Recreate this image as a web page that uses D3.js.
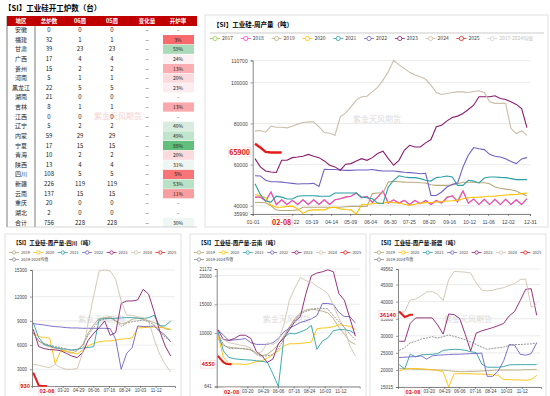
<!DOCTYPE html>
<meta charset="utf-8">
<style>
body { margin: 0; background: #fff; }
svg { font-family: "Noto Sans CJK SC", "Noto Sans", sans-serif; }
.tbl text { font-size: 6px; fill: #222; text-anchor: middle; }
.tbl .hdr { fill: #fff; font-size: 5.5px; font-weight: bold; }
.tick text { fill: #444; }
.domain { stroke: #555; stroke-width: 0.7; }
.tick line { stroke: #555; stroke-width: 0.6; }
.grid line { stroke: #e3e3e3; stroke-width: 0.7; }
.wm { fill: #dcdcdc; text-anchor: middle; font-size: 8px; }
</style>
<svg width="550" height="396"></svg>
<script src="https://d3js.org/d3.v7.min.js"></script>
<script>

// ---------- table data ----------
var regions = ["安徽","福建","甘肃","广西","贵州","河南","黑龙江","湖南","吉林","江西","辽宁","内蒙","宁夏","青海","陕西","四川","新疆","云南","重庆","湖北"];
var totalFurnaces = [0,32,39,17,15,5,22,21,8,0,5,59,17,10,13,108,226,137,20,2];
var openWeek06 = [0,1,23,4,2,1,5,0,1,0,2,29,15,2,4,5,119,15,0,0];
var openWeek05 = [0,1,23,4,2,1,5,0,1,0,2,29,15,2,4,5,119,15,0,0];
var tableHeader = ["地区","总炉数","06周","05周","变化量","开炉率"];

// ---------- main chart (national weekly output) ----------
var mainYears = ["2017","2018","2019","2020","2021","2022","2023","2024","2025"];
var mainColors = ["#92d050","#ff3fcf","#b9aa7a","#ffc000","#2a9fa6","#6f62c4","#8b1d6e","#cbbeab","#e51a1a"];
var main2017 = [44200,44200,42300,46700,40600,42900,40600,42600,40600,42900,40600,42900,40600,42900,40600,42900,43400,44200,44600,46200,43900,44600,41600,44200,47200,41300,42900,41300,42600,40600,42600,41000,42600,40600,42600,41300,44400,44600,42600,47400,41300,43300,40600,43100,40600,43100,40600,43100,40600,42900,40600,43600];
var main2018 = [44200,44200,42300,46700,40600,42900,40600,42600,40600,42900,40600,42900,40600,42900,40600,42900,43400,44200,44600,46200,43900,44600,41600,44200,47200,41300,42900,41300,42600,40600,42600,41000,42600,40600,42600,41300,43900,44900,41800,47200,41300,43300,40600,43100,40600,43100,40600,43100,40600,42900,40600,43300];
var main2019 = [41600,41600,41500,40000,37900,37700,37700,37700,38000,39300,39300,39300,39300,39300,39300,39300,39300,39500,39700,39700,39700,39700,45900,46200,46200,51500,51900,51700,51500,51400,51400,51200,51100,50200,49900,49900,49900,50100,50700,51400,51400,51400,51200,51200,50700,49100,48500,48100,47800,47200,45900,44900];
var main2020 = [45500,44900,43900,40200,39300,39300,39700,39800,38500,36300,37700,38000,38000,38000,39000,39300,38500,38200,38000,35990,40500,40700,41000,41200,41300,41800,41600,41300,40700,40200,40700,41300,41500,41600,41800,42000,42300,42400,42600,43400,43900,44100,44200,44400,44600,44700,45000,45200,45400,45500,45900,46200];
var main2021 = [50700,45500,42300,41800,44700,44200,43300,43300,44600,44900,44900,44900,44700,44600,44600,46200,46200,46200,46200,46200,44200,43900,43400,41300,41000,49100,52400,54600,54000,53700,53700,53200,52400,52000,53700,54000,54500,54000,49900,49900,52400,52000,51100,53500,54000,54000,53800,53700,53200,52700,52700,52700];
var main2022 = [54600,54500,52400,51700,51700,51500,51200,50900,50600,50700,50700,50900,49400,57700,57600,57600,57400,57200,57200,57400,57400,57400,57600,57200,56900,56900,56900,56600,56300,56100,55900,55600,55800,45000,45000,46700,49100,50400,51100,58900,64600,68300,67700,67300,65000,64100,63700,62900,61500,60500,62800,63400];
var main2023 = [62900,58900,56900,56400,56200,62100,62100,63400,63700,64100,65000,64100,63400,61800,59700,58900,57300,60200,60500,61800,62900,62100,63400,65400,66500,62900,59700,62100,67000,69400,68600,68600,70600,72200,78400,79200,81300,82900,83600,84900,86800,88900,93000,93000,93000,93500,92200,91700,90600,89300,87300,78000];
var main2024 = [76300,76600,75800,78700,78200,78200,77900,78700,79700,80500,80800,80800,78400,75600,75300,74300,83300,85200,88100,91400,93000,93300,95400,97600,101100,105200,110700,108500,106800,104900,103600,102800,101500,98700,95100,94100,94600,95100,95400,95400,95100,95600,95900,95100,90600,89800,89800,89800,77600,75100,76400,74300];
var main2025 = [70200,68300,66200,65900,65900,65900];
var mainSeries = [main2017,main2018,main2019,main2020,main2021,main2022,main2023,main2024,main2025];
var mainYTicks = [110700,100000,80000,60000,40000,35990];
var mainXTicks = ["01-01","02-22","03-19","04-14","05-09","06-04","06-30","07-25","08-20","09-16","10-12","11-06","12-02","12-31"];

// ---------- regional charts ----------
var subYears = ["2019","2020","2021","2022","2023","2024","2025","2019-2024均值"];
var subColors = ["#b9aa7a","#ffc000","#2a9fa6","#6f62c4","#8b1d6e","#cfc3b0","#e51a1a","#8a8a8a"];
var subXTicks = ["03-20","04-29","06-06","07-16","08-24","10-03","11-12"];

var sc2019 = [7500,6500,6000,5800,5600,5500,5200,5000,5300,6000,7500,8500,9300,9400,9500,9000,8600,8800,9200,9300,9200,9000,8800,8500,8000,7900];
var sc2020 = [7540,7050,6920,6880,3700,5300,5270,5070,4900,5400,5890,6220,6390,6510,6510,6630,6720,6800,6880,8120,8160,8200,8240,8200,8120,7960];
var sc2021 = [8780,6920,6100,5890,5690,5560,5480,5400,5480,5640,5690,5810,9190,9280,9280,9320,9360,9400,9400,9360,9280,9400,9690,8370,8370,8990];
var sc2022 = [8660,8570,8490,8370,8290,8240,8160,8120,8120,8080,8080,8080,8080,8080,8040,6720,3000,4980,5690,8370,8290,8290,8370,7750,7210,6390];
var sc2023 = [7960,5810,5560,5440,5400,5310,4980,4650,4450,5070,6590,7460,8160,8990,7210,7540,11170,11460,11460,11590,12910,12290,10100,7750,5890,4650];
var sc2024 = [3620,3500,3330,3210,3620,3210,3000,3000,3080,5070,8780,12080,15180,15300,15180,14150,11460,9690,9690,9520,9400,8990,6720,4860,3620,2670];
var sc2025 = [2600,1800,1000,930,930,930];
var scMean = [7500,6500,6200,6000,5800,5700,5500,5300,5400,6000,7200,8200,9000,9200,9400,9000,8300,8700,8900,9000,9100,8900,8500,7600,7000,6500];

var yn2019 = [9000,7800,7500,7400,7300,7200,7000,6500,6000,6300,7000,8000,9500,11000,12500,13500,14000,14200,14000,13800,13500,12500,11000,9800,8500,8000];
var yn2020 = [9710,5710,4690,4570,4570,4460,4690,4970,5140,5600,6290,6860,7720,8110,8110,8170,8290,8400,10740,10860,10910,11090,11430,11310,11140,10570];
var yn2021 = [10290,6860,5710,5490,5370,5310,5260,5140,5030,4860,2860,641,9140,9940,9830,10170,10570,11310,7140,8570,9140,10400,10570,10570,10400,9830];
var yn2022 = [10570,9600,8690,8800,8860,9030,8290,8000,8000,8000,8290,9030,10170,10860,11310,11830,12110,12460,13030,15140,15140,14970,13600,12860,12860,11710];
var yn2023 = [10570,8860,8690,9030,9600,9600,9030,6740,6000,4860,5430,8110,9140,10570,12000,12860,16860,20000,20460,20690,21030,20690,16860,15710,12570,9430];
var yn2024 = [9430,8860,8290,8110,7890,7720,7320,6400,6740,8290,8000,8570,11430,15710,17830,19710,19140,18860,18170,17600,16860,14860,12570,10860,7720,6000];
var yn2025 = [6000,5430,4900,4600,4550,4550];
var ynMean = [9800,8000,7300,7300,7300,7200,7100,6200,5900,6000,6200,7200,9000,11000,12300,13300,13800,14100,14300,14300,14200,13000,12000,11000,9800,8800];

var xj2019 = [20500,20300,20300,20200,20200,20100,20100,20000,20000,19800,19600,19500,19500,19600,19600,19700,19800,19900,20000,20000,20000,20000,20000,20100,20100,20200];
var xj2020 = [19660,20320,20420,20420,20320,20230,20040,19850,19470,15015,18900,18900,18900,18900,18800,18800,18710,18610,18420,17180,17180,17090,17090,16990,17180,18420];
var xj2021 = [21560,20320,24600,23840,24410,24510,24600,24790,25740,25930,26030,26030,25740,25360,25080,21750,20800,20800,20800,20990,21470,21560,21560,21560,21560,21560];
var xj2022 = [23650,23740,23840,23930,24130,23170,24130,24320,24410,24510,24600,24600,24700,24790,24790,24980,18140,18140,19660,22700,27450,27260,24600,24320,24790,27930];
var xj2023 = [28400,28400,33630,35250,35250,35250,35250,33160,30490,36390,36200,35060,30490,25550,30780,31450,31920,32400,32970,33630,35820,37150,40290,43610,43800,36010];
var xj2024 = [36500,37150,40480,40760,41710,42850,42950,42190,40290,46460,48840,48750,48650,48370,45510,43420,43140,43330,43800,44090,44750,45320,46460,46650,38380,39330];
var xj2025 = [37150,36300,35500,35800,36140,36140];
var xjMean = [25740,26500,27930,28400,29070,29350,29730,29350,29730,30300,29830,29350,28880,28210,27450,26690,26030,26310,26500,26690,27170,27450,27450,27550,27640,27930];

var svg = d3.select("svg");
var jan1 = new Date(2025, 0, 1);
var toDay = function(s) { return d3.timeDay.count(jan1, d3.timeParse("%Y-%m-%d")("2025-" + s)); };

// ================= TABLE =================
svg.append("text").attr("x", 4).attr("y", 11)
  .style("font-size", "7.5px").style("font-weight", "bold")
  .text("【SI】工业硅开工炉数（台）");

var tbl = svg.append("g").attr("class", "tbl");
var colX = [21, 49, 80, 112, 147, 178];
var rowY = d3.scaleLinear().domain([0, 20]).range([30, 222.6]);
var pctColor = d3.scaleLinear().domain([0.03, 0.25, 0.88]).range(["#f8696b", "#fcfcff", "#63be7b"]);

tbl.append("rect").attr("x", 7).attr("y", 16).attr("width", 190).attr("height", 10).attr("fill", "#c00000");
tbl.selectAll(".hdr").data(tableHeader).join("text").attr("class", "hdr")
  .attr("x", function(d, i) { return colX[i]; }).attr("y", 23).text(function(d) { return d; });

var rows = regions.map(function(r, i) {
  return { name: r, total: totalFurnaces[i], w6: openWeek06[i], w5: openWeek05[i] };
});
rows.push({ name: "合计", total: d3.sum(totalFurnaces), w6: d3.sum(openWeek06), w5: d3.sum(openWeek05) });

// watermark sits under the table text
svg.insert("text", ".tbl").attr("x", 118).attr("y", 119).attr("text-anchor", "middle")
  .style("font-size", "8px").attr("fill", "#f4d2d2").text("紫金天风期货");

var row = tbl.selectAll(".row").data(rows).join("g")
  .attr("transform", function(d, i) { return "translate(0," + rowY(i) + ")"; });
row.filter(function(d) { return d.w6 > 0; }).append("rect")
  .attr("x", 163).attr("y", -4.6).attr("width", 31).attr("height", 9.2)
  .attr("fill", function(d) { return pctColor(d.w6 / d.total); });
row.each(function(d) {
  var g = d3.select(this);
  var diff = d.w6 - d.w5;
  var cells = [d.name, d.total, d.w6, d.w5, diff === 0 ? "–" : diff,
               d.w6 > 0 ? d3.format(".0%")(d.w6 / d.total) : "–"];
  g.selectAll("text").data(cells).join("text")
    .attr("x", function(c, i) { return colX[i]; }).attr("y", 2)
    .style("font-size", function(c, i) { return i == 5 ? "5px" : "6px"; })
    .text(function(c) { return c; });
});
tbl.append("line").attr("x1", 7).attr("x2", 7).attr("y1", 16).attr("y2", 227).attr("stroke", "#444").attr("stroke-width", 0.7);
tbl.append("line").attr("x1", 35).attr("x2", 35).attr("y1", 26).attr("y2", 227).attr("stroke", "#444").attr("stroke-width", 0.7);
tbl.append("line").attr("x1", 7).attr("x2", 197).attr("y1", 227).attr("y2", 227).attr("stroke", "#bbb").attr("stroke-width", 0.6);

// ================= MAIN CHART =================
svg.append("rect").attr("x", 205).attr("y", 15).attr("width", 343).attr("height", 212)
  .attr("fill", "none").attr("stroke", "#dadada").attr("stroke-width", 0.8);
svg.append("text").attr("x", 213).attr("y", 27).style("font-size", "6.5px").style("font-weight", "bold")
  .text("【SI】工业硅-周产量（吨）");
svg.append("line").attr("x1", 210).attr("x2", 544).attr("y1", 33).attr("y2", 33).attr("stroke", "#aaa").attr("stroke-width", 0.6);

var mx = d3.scaleLinear().domain([0, 364]).range([252.7, 530]);
var my = d3.scaleLinear().domain([35990, 110700]).range([214, 60.4]);

function legendItem(g, x, y, color, label, textColor, fs) {
  g.append("line").attr("x1", x - 5).attr("x2", x + 5).attr("y1", y).attr("y2", y).attr("stroke", color).attr("stroke-width", 0.8);
  g.append("circle").attr("cx", x).attr("cy", y).attr("r", fs * 0.42).attr("fill", "#fff").attr("stroke", color).attr("stroke-width", 0.8);
  g.append("text").attr("x", x + 7).attr("y", y + fs * 0.35).style("font-size", fs + "px").attr("fill", textColor).text(label);
}
var mLeg = svg.append("g");
mainYears.concat(["2017-2024均值"]).forEach(function(yr, i) {
  var last = i == mainYears.length;
  legendItem(mLeg, 215 + i * 30.8, 38.5, last ? "#cfcfcf" : mainColors[i], yr, last ? "#c0c0c0" : "#444", 5);
});

svg.append("g").attr("class", "grid").selectAll("line").data(mainYTicks).join("line")
  .attr("x1", 252.7).attr("x2", 530).attr("y1", my).attr("y2", my);
svg.append("text").attr("class", "wm").attr("x", 377).attr("y", 122).text("紫金天风期货");

svg.append("g").attr("transform", "translate(252.7,0)")
  .call(d3.axisLeft(my).tickValues(mainYTicks).tickSize(2).tickFormat(d3.format("d")))
  .call(function(g) { g.selectAll("text").style("font-size", "5px"); });
svg.append("g").attr("transform", "translate(0,214)")
  .call(d3.axisBottom(mx).tickValues(mainXTicks.map(toDay)).tickSize(2)
    .tickFormat(function(d, i) { return mainXTicks[i]; }))
  .call(function(g) { g.selectAll("text").style("font-size", "5px").attr("dy", "0.9em"); });

var mLine = d3.line().x(function(d, i) { return mx(3 + 7 * i); }).y(function(d) { return my(d); });
svg.append("g").selectAll("path").data(mainSeries).join("path")
  .attr("fill", "none")
  .attr("stroke", function(d, i) { return mainColors[i]; })
  .attr("stroke-width", function(d, i) { return i == 8 ? 2.4 : 1.1; })
  .attr("d", mLine);

function redLabel(x, y, txt, anchor, fs) {
  var t = svg.append("text").attr("x", x).attr("y", y).attr("text-anchor", anchor)
    .style("font-size", fs + "px").style("font-weight", "bold").attr("fill", "#e01010").text(txt);
  var b = t.node().getBBox();
  svg.insert("rect", function() { return t.node(); })
    .attr("x", b.x - 1).attr("y", b.y).attr("width", b.width + 2).attr("height", b.height)
    .attr("fill", "#fff").attr("stroke", "#f4c6c6").attr("stroke-width", 0.4);
}
redLabel(250, my(65900) + 2.5, "65900", "end", 7);
redLabel(mx(toDay("02-08")), 224.5, "02-08", "middle", 7);

// ================= REGIONAL CHARTS =================
var panels = [
  { x0: 0, title: "【SI】工业硅-周产量-四川（吨）", axisX: 32, right: 175, bottom: 386, top: 270,
    domain: [930, 15300], ticks: [15300, 12000, 9000, 6000, 3000], last: 930,
    series: [sc2019, sc2020, sc2021, sc2022, sc2023, sc2024, scMean, sc2025] },
  { x0: 185, title: "【SI】工业硅-周产量-云南（吨）", axisX: 216.7, right: 360, bottom: 386.5, top: 269,
    domain: [641, 21172], ticks: [21172, 20000, 15000, 10000, 641], last: 4550,
    series: [yn2019, yn2020, yn2021, yn2022, yn2023, yn2024, ynMean, yn2025] },
  { x0: 365, title: "【SI】工业硅-周产量-新疆（吨）", axisX: 398, right: 540, bottom: 387, top: 269,
    domain: [15015, 49562], ticks: [49562, 45000, 40000, 35000, 30000, 25000, 20000, 15015], last: 36140,
    series: [xj2019, xj2020, xj2021, xj2022, xj2023, xj2024, xjMean, xj2025] }
];
var seriesColor = [0, 1, 2, 3, 4, 5, 7, 6].map(function(k) { return subColors[k]; });

panels.forEach(function(p) {
  var g = svg.append("g");
  g.append("rect").attr("x", p.x0 + 5).attr("y", 234).attr("width", 176).attr("height", 170)
    .attr("fill", "none").attr("stroke", "#dadada").attr("stroke-width", 0.8);
  g.append("text").attr("x", p.x0 + 13).attr("y", 245).style("font-size", "5.5px").style("font-weight", "bold")
    .text(p.title);
  subYears.forEach(function(yr, i) {
    var lx = p.x0 + 14 + (i % 7) * 24.4, ly = i < 7 ? 252.5 : 259.5;
    legendItem(g, lx, ly, subColors[i], yr, "#444", 4);
  });

  var x = d3.scaleLinear().domain([0, 364]).range([p.axisX, p.axisX + 143]);
  var y = d3.scaleLinear().domain(p.domain).range([p.bottom, p.top]);

  g.append("g").attr("class", "grid").selectAll("line").data(p.ticks).join("line")
    .attr("x1", p.axisX).attr("x2", p.right).attr("y1", y).attr("y2", y);
  g.append("text").attr("class", "wm").attr("x", p.axisX + 70).attr("y", 322).text("紫金天风期货");

  g.append("g").attr("transform", "translate(" + p.axisX + ",0)")
    .call(d3.axisLeft(y).tickValues(p.ticks).tickSize(2).tickFormat(d3.format("d")))
    .call(function(a) { a.selectAll("text").style("font-size", "4.5px"); });
  g.append("g").attr("transform", "translate(0," + p.bottom + ")")
    .call(d3.axisBottom(x).tickValues(subXTicks.map(toDay)).tickSize(2).tickPadding(1)
      .tickFormat(function(d, i) { return subXTicks[i]; }))
    .call(function(a) { a.selectAll("text").style("font-size", "4.5px").attr("dy", "0.71em"); });

  var hist = d3.line().x(function(d, i) { return x(3 + 14 * i); }).y(function(d) { return y(d); });
  var weekly = d3.line().x(function(d, i) { return x(3 + 7 * i); }).y(function(d) { return y(d); });
  g.append("g").selectAll("path").data(p.series).join("path")
    .attr("fill", "none")
    .attr("stroke", function(d, i) { return seriesColor[i]; })
    .attr("stroke-width", function(d, i) { return i == 7 ? 2 : 0.9; })
    .attr("stroke-dasharray", function(d, i) { return i == 6 ? "2,1" : null; })
    .attr("d", function(d, i) { return i == 7 ? weekly(d) : hist(d); });

  redLabel(p.axisX - 2, y(p.last) + 2, d3.format("d")(p.last), "end", 5.5);
  redLabel(x(toDay("02-08")), p.bottom + 7, "02-08", "middle", 5.5);
});

</script>
